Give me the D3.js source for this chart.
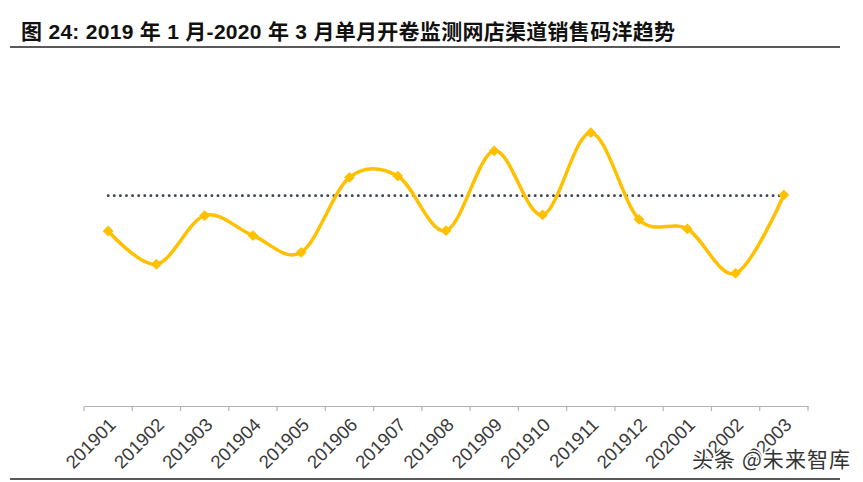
<!DOCTYPE html>
<html>
<head>
<meta charset="utf-8">
<script src="https://cdn.jsdelivr.net/npm/d3@7"></script>
<style>
  body { margin: 0; background: #fff; }
  svg { display: block; }
</style>
</head>
<body>
<div id="chart"></div>
<script>
// months on the x axis
var months = ["201901", "201902", "201903", "201904", "201905", "201906", "201907", "201908",
              "201909", "201910", "201911", "201912", "202001", "202002", "202003"];
// monthly sales index (no y axis shown)
var sales = [50.0, 40.5, 54.4, 48.7, 43.9, 65.3, 65.7, 50.1, 72.9, 54.6, 78.1, 53.3, 50.6, 37.9, 60.3];
// dotted reference line
var refValue = [60.1];

var title = "图 24:  2019 年 1 月-2020 年 3 月单月开卷监测网店渠道销售码洋趋势";
var watermark = "头条 @未来智库";

var width = 863, height = 482;

var svg = d3.select("#chart")
  .append("svg")
  .attr("width", width)
  .attr("height", height);

// title + rules
svg.append("text")
  .attr("x", 21)
  .attr("y", 39)
  .attr("font-family", "'Liberation Sans', 'Noto Sans CJK SC', sans-serif")
  .attr("font-weight", "bold")
  .attr("font-size", "21px")
  .attr("textLength", 654)
  .attr("lengthAdjust", "spacing")
  .attr("fill", "#111")
  .text(title);

svg.append("line")
  .attr("x1", 10).attr("x2", 840)
  .attr("y1", 47).attr("y2", 47)
  .attr("stroke", "#222").attr("stroke-width", 1.5);

svg.append("line")
  .attr("x1", 10).attr("x2", 840)
  .attr("y1", 479).attr("y2", 479)
  .attr("stroke", "#222").attr("stroke-width", 1.5);

// scales
var x = d3.scaleBand()
  .domain(months)
  .range([84, 808]);

var y = d3.scaleLinear()
  .domain([0, 100])
  .range([406, 56]);

var cx = d => x(d) + x.bandwidth() / 2;

// x axis
var axis = svg.append("g")
  .attr("transform", "translate(0,406)")
  .call(d3.axisBottom(x).tickSize(0).tickFormat(""));
axis.select(".domain").attr("stroke", "#b3b3b3").attr("stroke-width", 1.2);

// tick marks between categories
var tickPos = months.map(d => x(d)).concat([x.range()[1]]);
svg.selectAll(".tk")
  .data(tickPos)
  .enter().append("line")
  .attr("class", "tk")
  .attr("x1", d => d).attr("x2", d => d)
  .attr("y1", 406).attr("y2", 411)
  .attr("stroke", "#b3b3b3").attr("stroke-width", 1.2);

svg.selectAll(".xlab")
  .data(months)
  .enter().append("text")
  .attr("class", "xlab")
  .attr("transform", d => "translate(" + (cx(d) + 9) + ",426) rotate(-45)")
  .attr("text-anchor", "end")
  .attr("font-family", "'Liberation Sans', Arial, sans-serif")
  .attr("font-size", "18.5px")
  .attr("fill", "#3a3a3a")
  .text(d => d);

// dotted reference line
svg.selectAll(".ref")
  .data(refValue)
  .enter().append("line")
  .attr("class", "ref")
  .attr("x1", cx(months[0]))
  .attr("x2", cx(months[months.length - 1]))
  .attr("y1", d => y(d)).attr("y2", d => y(d))
  .attr("stroke", "#3b4252")
  .attr("stroke-width", 2.8)
  .attr("stroke-linecap", "round")
  .attr("stroke-dasharray", "0.1,6");

// smoothed line
var line = d3.line()
  .x((d, i) => cx(months[i]))
  .y(d => y(d))
  .curve(d3.curveCardinal.tension(0));

svg.append("path")
  .datum(sales)
  .attr("d", line)
  .attr("fill", "none")
  .attr("stroke", "#FFC000")
  .attr("stroke-width", 3.5);

// diamond markers
svg.selectAll(".mk")
  .data(sales)
  .enter().append("path")
  .attr("class", "mk")
  .attr("d", d3.symbol().type(d3.symbolDiamond2).size(75))
  .attr("transform", (d, i) => "translate(" + cx(months[i]) + "," + y(d) + ")")
  .attr("fill", "#FFC000");

// watermark
svg.append("text")
  .attr("x", 692)
  .attr("y", 467)
  .attr("font-family", "'Noto Sans CJK SC', sans-serif")
  .attr("font-size", "21px")
  .attr("textLength", 158)
  .attr("lengthAdjust", "spacing")
  .attr("fill", "#333")
  .attr("stroke", "#fff")
  .attr("stroke-width", 3)
  .attr("paint-order", "stroke")
  .text(watermark);
</script>
</body>
</html>
